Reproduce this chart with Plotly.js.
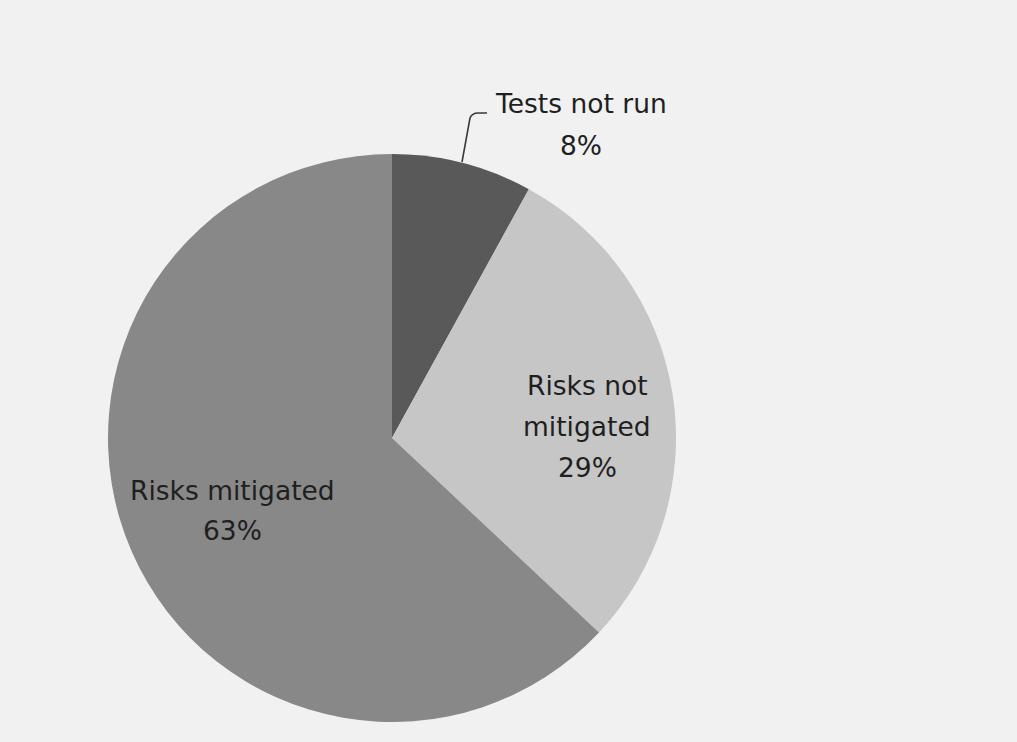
<!DOCTYPE html>
<html>
<head>
<meta charset="utf-8">
<script src="https://cdn.plot.ly/plotly-3.0.1.min.js"></script>
<style>html,body{margin:0;padding:0;background:#f1f1f1;}#chart{width:1017px;height:742px;}</style>
</head>
<body>
<div id="chart"></div>
<script>
// Data
const categories = ["Tests not run", "Risks not mitigated", "Risks mitigated"];
const percents = [8, 29, 63];
const sliceColors = ["#595959", "#c6c6c6", "#888888"];
// Label line breaks for each category
const labelLines = [["Tests not run"], ["Risks not", "mitigated"], ["Risks mitigated"]];

const W = 1017, H = 742;
const px = x => x / W;
const py = y => 1 - y / H;

// label anchor (pixel centre of first line) and line spacing
const labelAnchors = [[581, 103], [587, 385], [232, 490]];
const lineGap = [42, 41, 40];

const annotations = [];
categories.forEach((c, i) => {
  const lines = labelLines[i].concat([percents[i] + "%"]);
  lines.forEach((t, j) => {
    annotations.push({
      text: t, showarrow: false, xref: "paper", yref: "paper",
      x: px(labelAnchors[i][0]), y: py(labelAnchors[i][1] + j * lineGap[i]),
      xanchor: "center", yanchor: "middle",
      font: {family: "DejaVu Sans, sans-serif", size: 26.5, color: "#1f1f1f"}
    });
  });
});

const cx = 392, cy = 438, r = 284;
const trace = {
  type: "pie",
  labels: categories,
  values: percents,
  sort: false,
  direction: "clockwise",
  rotation: 0,
  textinfo: "none",
  hoverinfo: "label+percent",
  marker: {colors: sliceColors, line: {width: 0}},
  domain: {x: [px(cx - r), px(cx + r)], y: [py(cy + r), py(cy - r)]}
};

const layout = {
  width: W, height: H,
  margin: {l: 0, r: 0, t: 0, b: 0},
  paper_bgcolor: "#f1f1f1",
  showlegend: false,
  annotations: annotations,
  shapes: [{
    type: "path", xref: "paper", yref: "paper",
    path: `M ${px(462)},${py(162)} L ${px(470)},${py(118)} Q ${px(472)},${py(113)} ${px(478)},${py(113)} L ${px(487)},${py(113)}`,
    line: {color: "#3a3a3a", width: 1.6}
  }]
};

Plotly.newPlot("chart", [trace], layout, {displayModeBar: false, staticPlot: true});
</script>
</body>
</html>
